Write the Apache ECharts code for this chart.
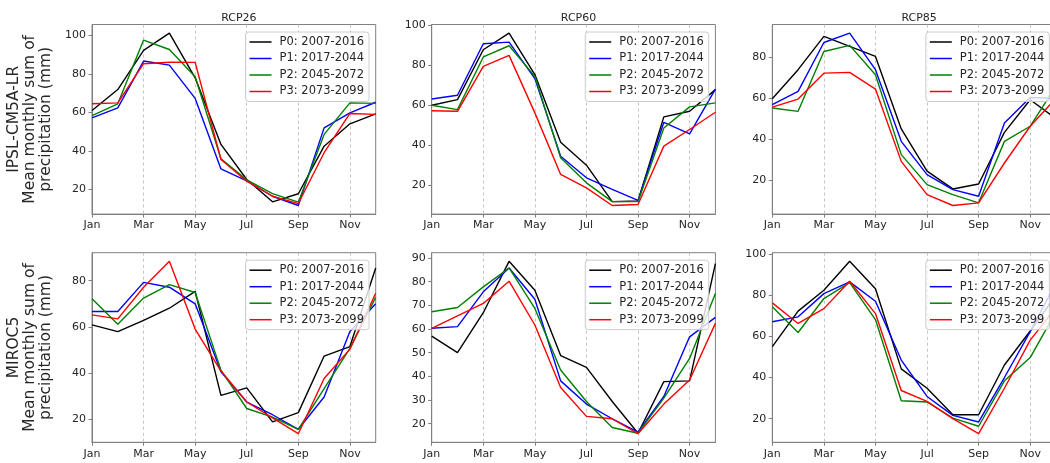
<!DOCTYPE html>
<html>
<head>
<meta charset="utf-8">
<script src="https://cdn.jsdelivr.net/npm/echarts@6/dist/echarts.min.js"></script>
<style>
html, body { margin: 0; padding: 0; background: #fff; overflow: hidden; }
#chart { width: 1060px; height: 463px; }
</style>
</head>
<body>
<div id="chart"></div>
<script>
// Monthly mean precipitation (mm) per period, for two climate models and three scenarios
const months = ['Jan', 'Feb', 'Mar', 'Apr', 'May', 'Jun', 'Jul', 'Aug', 'Sep', 'Oct', 'Nov', 'Dec'];
const periods = ['P0: 2007-2016', 'P1: 2017-2044', 'P2: 2045-2072', 'P3: 2073-2099'];
const scenarios = ['RCP26', 'RCP60', 'RCP85'];
const models = ['IPSL-CM5A-LR', 'MIROC5'];

// rows: P0, P1, P2, P3
const ipslRcp26 = [
  [61.0, 71.9, 92.2, 101.2, 78.0, 43.4, 25.2, 13.6, 17.8, 42.5, 54.1, 59.3],
  [57.2, 62.4, 86.7, 84.6, 67.3, 30.7, 24.5, 16.5, 11.7, 52.0, 59.8, 65.3],
  [58.4, 64.5, 97.6, 92.7, 78.5, 36.0, 25.0, 17.9, 13.4, 48.6, 65.0, 64.7],
  [64.5, 65.0, 85.3, 86.1, 86.0, 35.6, 24.3, 16.5, 12.7, 39.1, 59.5, 59.0]
];
const ipslRcp60 = [
  [60.0, 62.8, 87.7, 96.0, 75.3, 41.6, 30.1, 11.9, 12.2, 54.2, 57.0, 67.8],
  [63.1, 65.0, 90.7, 91.5, 73.3, 34.6, 23.8, 18.0, 12.5, 51.5, 45.7, 68.1],
  [60.0, 57.8, 84.1, 89.7, 74.4, 33.8, 21.3, 11.9, 11.9, 48.7, 59.2, 61.2],
  [57.3, 57.0, 79.4, 84.9, 56.2, 25.5, 18.8, 10.0, 10.5, 39.6, 47.9, 56.5]
];
const ipslRcp85 = [
  [59.8, 74.0, 90.3, 85.4, 80.5, 45.0, 24.3, 15.6, 18.0, 43.3, 59.3, 50.0],
  [56.9, 63.4, 87.3, 91.9, 74.0, 38.9, 22.6, 15.3, 12.0, 47.9, 60.4, 60.0],
  [55.2, 53.6, 82.9, 85.9, 71.5, 32.4, 17.7, 12.8, 8.8, 38.9, 46.3, 66.0],
  [55.7, 59.6, 72.3, 72.7, 64.5, 29.1, 12.8, 7.5, 8.8, 28.3, 46.3, 60.0]
];
const mirocRcp26 = [
  [60.9, 58.0, 62.8, 68.1, 75.4, 30.4, 33.6, 18.9, 22.9, 47.4, 51.5, 85.5],
  [66.7, 66.7, 79.3, 77.2, 70.0, 40.6, 27.5, 22.0, 15.7, 29.7, 58.0, 70.0],
  [72.2, 61.2, 72.5, 78.3, 74.9, 41.3, 24.7, 21.0, 15.7, 33.3, 50.7, 72.8],
  [65.2, 63.5, 77.2, 88.4, 59.1, 40.9, 27.5, 20.6, 13.8, 37.7, 50.4, 74.6]
];
const mirocRcp60 = [
  [57.0, 50.0, 66.9, 88.6, 76.4, 48.8, 43.8, 29.4, 16.0, 37.8, 38.1, 87.6],
  [60.3, 61.0, 75.7, 85.8, 72.6, 38.1, 28.3, 22.1, 16.5, 31.5, 56.7, 64.9],
  [67.3, 69.1, 77.8, 85.8, 68.7, 42.7, 29.4, 18.4, 16.0, 30.8, 47.6, 75.0],
  [60.3, 65.6, 70.8, 80.2, 61.7, 35.3, 23.1, 22.1, 15.8, 28.3, 38.5, 62.4]
];
const mirocRcp85 = [
  [55.0, 72.3, 82.4, 96.5, 83.2, 44.2, 34.8, 21.9, 21.9, 46.1, 62.6, 80.0],
  [67.1, 69.5, 80.8, 86.5, 77.1, 48.5, 30.8, 21.6, 18.4, 40.0, 62.3, 86.0],
  [74.4, 61.9, 78.4, 86.1, 68.2, 28.7, 28.1, 20.3, 16.3, 38.4, 49.7, 72.0],
  [76.3, 66.3, 73.5, 86.8, 71.1, 33.7, 28.4, 20.0, 12.7, 34.8, 58.2, 74.0]
];

// y tick values per panel
const ticksIpslRcp26 = [20, 40, 60, 80, 100];
const ticksIpslRcp60 = [20, 40, 60, 80, 100];
const ticksIpslRcp85 = [20, 40, 60, 80];
const ticksMirocRcp26 = [20, 40, 60, 80];
const ticksMirocRcp60 = [20, 30, 40, 50, 60, 70, 80, 90];
const ticksMirocRcp85 = [20, 40, 60, 80, 100];

const panelData = [
  [ipslRcp26, ipslRcp60, ipslRcp85],
  [mirocRcp26, mirocRcp60, mirocRcp85]
];
const panelTicks = [
  [ticksIpslRcp26, ticksIpslRcp60, ticksIpslRcp85],
  [ticksMirocRcp26, ticksMirocRcp60, ticksMirocRcp85]
];

const lineColors = ['#000000', '#0000ff', '#008000', '#ff0000'];
const FONT = 'DejaVu Sans';
const TEXT = '#262626';
const SPINE = '#808080';
const CW = 1060;

const colLeft = [92, 431.7, 772.3];
const plotW = 283.7;
const rowTop = [24.5, 252.7];
const plotH = 189.6;

const grids = [], xAxes = [], yAxes = [], series = [], legends = [], titles = [];

panelData.forEach((row, r) => {
  row.forEach((panel, c) => {
    const idx = grids.length;
    const left = colLeft[c], top = rowTop[r];
    grids.push({
      left: left, top: top, width: plotW, height: plotH,
      show: true, borderColor: SPINE, borderWidth: 1, backgroundColor: 'transparent'
    });

    // y range padded by 5% of the data span
    const all = panel.flat();
    const lo = Math.min(...all), hi = Math.max(...all);
    const pad = (hi - lo) * 0.05;

    xAxes.push({
      gridIndex: idx, type: 'category', data: months, boundaryGap: false,
      axisLine: { show: true, lineStyle: { color: SPINE, width: 1 } },
      axisTick: { show: true, interval: 1, length: 3.5, lineStyle: { color: SPINE, width: 1 } },
      axisLabel: { interval: 1, color: TEXT, fontSize: 11, fontFamily: FONT, margin: 6 },
      splitLine: { show: true, interval: 1, lineStyle: { color: '#b5b5b5', width: 0.8, type: [3, 3] } }
    });

    yAxes.push({
      gridIndex: idx, type: 'value', min: lo - pad, max: hi + pad,
      axisLine: { show: true, lineStyle: { color: SPINE, width: 1 } },
      axisTick: { show: true, length: 3.5, customValues: panelTicks[r][c], lineStyle: { color: SPINE, width: 1 } },
      axisLabel: { customValues: panelTicks[r][c], color: TEXT, fontSize: 11, fontFamily: FONT, margin: 6 },
      splitLine: { show: false },
      name: c === 0 ? models[r] + '\nMean monthly sum of\nprecipitation (mm)' : '',
      nameLocation: 'middle', nameRotate: 90, nameGap: 38,
      nameTextStyle: { fontSize: 15.5, lineHeight: 16, fontFamily: FONT, color: TEXT, align: 'center' }
    });

    panel.forEach((vals, p) => {
      series.push({
        type: 'line', name: periods[p], xAxisIndex: idx, yAxisIndex: idx,
        data: vals, symbol: 'none', smooth: false,
        lineStyle: { color: lineColors[p], width: 1.4 },
        itemStyle: { color: lineColors[p] },
        emphasis: { disabled: true }
      });
    });

    legends.push({
      orient: 'vertical', right: CW - (left + plotW - 6.7), top: top + 7.5,
      data: periods, icon: 'rect', itemWidth: 22, itemHeight: 1.5, itemGap: 2.5,
      selectedMode: false,
      textStyle: { fontSize: 11.5, lineHeight: 14, fontFamily: FONT, color: TEXT, padding: [0, 0, 0, 3] },
      backgroundColor: 'rgba(255,255,255,0.8)', borderColor: '#cccccc', borderWidth: 1, borderRadius: 3,
      padding: [3, 5, 3, 4]
    });

    if (r === 0) {
      titles.push({
        text: scenarios[c], left: left + plotW / 2, top: 8, textAlign: 'center',
        textStyle: { fontSize: 11, fontWeight: 'normal', fontFamily: FONT, color: TEXT }
      });
    }
  });
});

const chart = echarts.init(document.getElementById('chart'), null, { renderer: 'canvas' });
chart.setOption({
  animation: false,
  backgroundColor: '#ffffff',
  title: titles,
  grid: grids,
  xAxis: xAxes,
  yAxis: yAxes,
  legend: legends,
  series: series
});
</script>
</body>
</html>
